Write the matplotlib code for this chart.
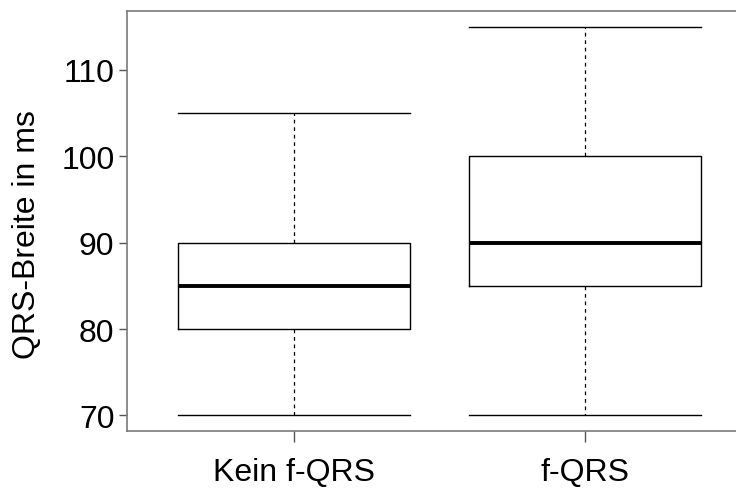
import matplotlib
matplotlib.use("Agg")
import matplotlib.pyplot as plt

categories = ["Kein f-QRS", "f-QRS"]
whisker_low = [70, 70]
q1 = [80, 85]
median = [85, 90]
q3 = [90, 100]
whisker_high = [105, 115]
yticks = [70, 80, 90, 100, 110]

plt.rcParams['font.family'] = ['Liberation Sans', 'DejaVu Sans']

fig = plt.figure(figsize=(7.36, 4.89), dpi=100)
ax = fig.add_axes([127/736, (489-432)/489, (752-127)/736, (432-12)/489])

stats = []
for i, c in enumerate(categories):
    stats.append(dict(label=c, whislo=whisker_low[i], q1=q1[i], med=median[i],
                      q3=q3[i], whishi=whisker_high[i], fliers=[]))

ax.bxp(stats, positions=[1, 2], widths=0.8, showfliers=False,
       boxprops=dict(color='black', linewidth=1.0),
       medianprops=dict(color='black', linewidth=2.8),
       whiskerprops=dict(color='black', linewidth=0.9, linestyle=(0, (3, 3))),
       capprops=dict(color='black', linewidth=1.0),
       capwidths=0.8)

ax.set_xlim(0.426, 2.574)
ax.set_ylim(68.2, 116.8)
ax.set_yticks(yticks)
ax.set_xticks([1, 2])
ax.set_xticklabels(categories)
ax.tick_params(axis='both', labelsize=23, color='#555555', width=1.0)
ax.tick_params(axis='y', length=6, pad=3)
ax.tick_params(axis='x', length=8, pad=11)
for s in ['left', 'top', 'bottom']:
    ax.spines[s].set_color('#7a7a7a')
    ax.spines[s].set_linewidth(1.2)
ax.spines['right'].set_visible(False)
ax.set_ylabel("QRS-Breite in ms", fontsize=23)
ax.yaxis.set_label_coords(-0.136, 0.47)

fig.savefig("out.png", dpi=100)
